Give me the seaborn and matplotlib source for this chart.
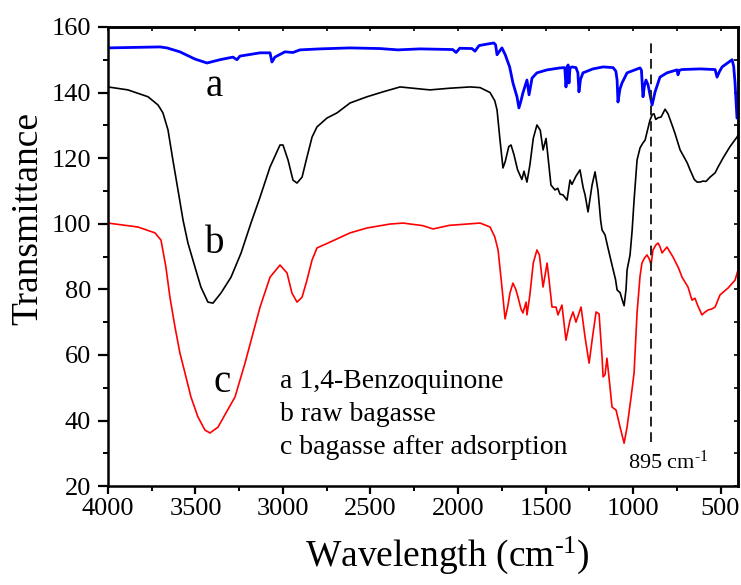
import numpy as np
import pandas as pd
import matplotlib
matplotlib.use("Agg")
import matplotlib.pyplot as plt
from matplotlib.ticker import MultipleLocator
import seaborn as sns

# ---------------- data ----------------
wn_a = [4000, 3800, 3703, 3663, 3589, 3503, 3434, 3360, 3286, 3263, 3246, 3131, 3074, 3063, 3046,
        2989, 2943, 2903, 2789, 2617, 2446, 2343, 2217, 2030, 2011, 1990, 1920, 1903, 1880, 1830,
        1795, 1785, 1777, 1760, 1749, 1730, 1720, 1705, 1686, 1663, 1652, 1640, 1629, 1606, 1594,
        1577, 1549, 1491, 1417, 1390, 1383, 1375, 1371, 1366, 1360, 1349, 1326, 1315, 1309, 1300,
        1286, 1229, 1171, 1114, 1098, 1091, 1086, 1075, 1063, 1034, 960, 952, 943, 935, 926, 914,
        900, 891, 874, 846, 806, 749, 743, 735, 720, 617, 531, 520, 505, 491, 434, 425, 417, 410, 406]
t_a = [153.6, 153.8, 153.9, 153.6, 152.4, 150.2, 149.0, 150.0, 150.8, 150.0, 151.1, 152.1, 152.1, 149.3, 150.8,
       152.4, 152.2, 153.0, 153.3, 153.6, 153.4, 153.0, 153.3, 153.1, 152.2, 153.5, 153.4, 152.6, 154.3, 154.8,
       155.1, 154.5, 151.5, 152.8, 153.6, 151.5, 150.0, 147.8, 142.9, 138.7, 135.3, 137.5, 139.9, 143.8, 139.3,
       144.4, 146.0, 146.9, 147.5, 147.6, 141.7, 147.8, 148.4, 142.9, 147.5, 147.8, 147.6, 146.0, 140.2, 144.0,
       146.0, 147.2, 147.8, 147.6, 146.5, 143.8, 137.1, 141.0, 142.9, 146.0, 147.5, 146.8, 138.7, 142.0, 143.8, 142.3,
       138.5, 136.2, 140.2, 144.7, 146.0, 146.9, 145.4, 146.8, 147.0, 147.2, 147.0, 144.7, 146.5, 147.8, 150.0, 148.0,
       142.9, 136.0, 132.2]

wn_b = [4000, 3886, 3771, 3714, 3686, 3657, 3629, 3600, 3571, 3543, 3503, 3469, 3429, 3400, 3354, 3297,
        3240, 3183, 3131, 3074, 3017, 3000, 2971, 2943, 2920, 2891, 2863, 2834, 2806, 2749, 2691, 2617,
        2520, 2429, 2331, 2200, 2160, 2050, 1931, 1874, 1817, 1790, 1777, 1760, 1743, 1730, 1710,
        1697, 1680, 1660, 1646, 1635, 1623, 1606, 1589, 1570, 1549, 1530, 1514, 1497, 1485, 1469, 1446, 1430,
        1417, 1400, 1377, 1360, 1349, 1326, 1303, 1285, 1274, 1257, 1234, 1217, 1200, 1185, 1177, 1160, 1143,
        1120, 1100, 1091, 1074, 1060, 1051, 1040, 1034, 1017, 1005, 994, 977, 960, 945, 931, 915, 903, 890,
        880, 870, 857, 840, 817, 800, 777, 760, 731, 700, 690, 674, 650, 634, 617, 600, 583, 560, 531, 514,
        486, 446, 406, 400]
t_b = [141.7, 140.8, 138.7, 136.2, 133.8, 128.6, 119.4, 110.3, 101.1, 94.1, 86.8, 80.7, 76.1, 75.8, 78.9, 83.7,
       91.0, 100.2, 108.1, 117.3, 124.0, 124.0, 119.4, 113.3, 112.4, 114.2, 120.3, 126.4, 129.5, 132.2, 133.8, 136.8,
       138.7, 140.2, 141.7, 141.0, 140.8, 141.3, 141.7, 141.5, 140.0, 137.5, 134.7, 125.5, 117.0, 119.0, 123.5,
       124.0, 121.0, 116.5, 114.8, 113.5, 116.0, 112.7, 118.0, 126.0, 130.1, 128.5, 122.5, 126.0, 120.0, 111.8, 110.3, 110.8,
       109.0, 108.8, 107.2, 113.3, 112.0, 114.5, 116.4, 111.0, 108.8, 103.6, 111.8, 115.8, 110.0, 101.0, 98.1, 96.6, 92.6,
       87.4, 83.0, 79.8, 79.0, 76.5, 75.0, 80.0, 85.9, 90.5, 98.0, 107.2, 119.4, 123.1, 124.5, 125.5, 129.0, 131.6, 133.3,
       133.5, 131.8, 132.3, 132.5, 134.9, 133.5, 130.1, 127.5, 122.5, 119.5, 118.5, 116.4, 113.5, 112.7, 112.7, 113.0, 112.9,
       114.2, 115.5, 117.3, 120.0, 123.5, 126.4, 127.0]

wn_c = [4000, 3829, 3731, 3697, 3669, 3646, 3617, 3589, 3560, 3526, 3486, 3446, 3417, 3371, 3326, 3274,
        3217, 3131, 3074, 3017, 2977, 2949, 2920, 2891, 2863, 2834, 2806, 2731, 2617, 2520, 2389,
        2314, 2200, 2143, 2050, 1874, 1817, 1790, 1771, 1749, 1731, 1715, 1703, 1686, 1670, 1657, 1640,
        1629, 1611, 1606, 1590, 1570, 1549, 1535, 1514, 1491, 1480, 1463, 1440, 1429, 1406, 1395, 1383, 1370,
        1360, 1343, 1326, 1297, 1274, 1251, 1230, 1211, 1194, 1177, 1171, 1160, 1149, 1135, 1120, 1097, 1074,
        1051, 1034, 1011, 994, 977, 960, 949, 935, 920, 905, 897, 886, 870, 857, 846, 834, 806, 771, 740, 720,
        686, 663, 646, 630, 606, 590, 571, 550, 531, 503, 457, 417, 400]
t_c = [100.2, 99.0, 97.2, 95.0, 86.8, 77.6, 68.5, 60.6, 54.5, 47.2, 41.1, 37.1, 36.2, 38.0, 42.3, 47.2,
       57.5, 74.6, 83.7, 87.4, 85.0, 78.9, 76.1, 77.6, 82.8, 88.9, 92.6, 94.4, 97.2, 98.7, 99.9,
       100.2, 99.4, 98.4, 99.5, 100.2, 99.0, 96.0, 92.0, 80.7, 71.0, 75.0, 78.9, 81.9, 80.0, 77.6, 74.0,
       72.8, 76.1, 72.2, 78.0, 88.0, 92.0, 90.5, 80.7, 88.0, 83.0, 74.6, 74.6, 72.2, 75.2, 70.0, 64.5, 68.0,
       70.6, 73.1, 70.0, 74.6, 65.4, 57.5, 66.0, 73.1, 72.5, 59.4, 53.3, 54.0, 59.0, 52.0, 44.1, 43.2, 38.0,
       33.1, 38.0, 47.2, 54.5, 72.8, 84.0, 88.0, 89.5, 90.5, 89.0, 87.4, 92.0, 93.5, 94.1, 93.0, 91.1, 92.9, 89.8, 86.5, 83.7,
       80.7, 76.7, 77.3, 75.0, 72.2, 73.0, 73.7, 74.0, 74.6, 78.3, 80.4, 82.8, 85.9]

curve_labels = ["a", "b", "c"]
legend_lines = ["a 1,4-Benzoquinone", "b raw bagasse", "c bagasse after adsorption"]
marker_wn = 895
marker_label = "895 cm$^{\\mathregular{\u2010}1}$"
x_label = "Wavelength (cm$^{\\mathregular{\u2010}1}$)"
x_ticks = [4000, 3500, 3000, 2500, 2000, 1500, 1000, 500]
y_ticks = [20, 40, 60, 80, 100, 120, 140, 160]

# ---------------- style ----------------
sns.set_style("ticks")
plt.rcParams["font.family"] = ["Liberation Serif", "DejaVu Serif"]
plt.rcParams["mathtext.fontset"] = "custom"
plt.rcParams["mathtext.rm"] = "Liberation Serif"
plt.rcParams["mathtext.it"] = "Liberation Serif:italic"
for k in ["text.color", "axes.labelcolor", "xtick.color", "ytick.color", "axes.edgecolor"]:
    plt.rcParams[k] = "black"

fig = plt.figure(figsize=(7.41, 5.85), dpi=100)
ax = fig.add_axes([0.1457, 0.169, 0.8503, 0.785])

df_a = pd.DataFrame({"wn": wn_a, "T": t_a})
df_b = pd.DataFrame({"wn": wn_b, "T": t_b})
df_c = pd.DataFrame({"wn": wn_c, "T": t_c})

sns.lineplot(data=df_a, x="wn", y="T", color="#0000ff", lw=2.0, sort=False, estimator=None, ax=ax)
sns.lineplot(data=df_b, x="wn", y="T", color="black", lw=1.2, sort=False, estimator=None, ax=ax)
sns.lineplot(data=df_c, x="wn", y="T", color="#ff0000", lw=1.2, sort=False, estimator=None, ax=ax)

ax.plot([marker_wn, marker_wn], [33.4, 155.4], color="#222222", lw=1.4, ls=(0, (5, 3)))

ax.set_xlim(4000, 400)
ax.set_ylim(20, 160)
ax.set_xticks(x_ticks)
ax.set_yticks(y_ticks)
ax.xaxis.set_minor_locator(MultipleLocator(250))
ax.yaxis.set_minor_locator(MultipleLocator(10))

for s in ax.spines.values():
    s.set_linewidth(1.8)
    s.set_color("black")

ax.tick_params(axis="x", which="major", direction="out", length=5.8, width=1.6, labelsize=19, pad=3, colors="black")
ax.tick_params(axis="x", which="minor", direction="out", length=3.6, width=1.4, colors="black")
ax.tick_params(axis="y", which="major", direction="out", length=7.2, width=1.6, labelsize=19, pad=5, colors="black")
ax.tick_params(axis="y", which="minor", direction="out", length=3.6, width=1.4, colors="black")

top = ax.secondary_xaxis("top")
top.set_xticks(x_ticks)
top.xaxis.set_minor_locator(MultipleLocator(250))
top.tick_params(which="both", direction="in", length=3, width=1.2, labeltop=False, colors="black")
top.spines["top"].set_linewidth(1.8)
right = ax.secondary_yaxis("right")
right.set_yticks(y_ticks)
right.yaxis.set_minor_locator(MultipleLocator(10))
right.tick_params(which="both", direction="in", length=3, width=1.2, labelright=False, colors="black")
right.spines["right"].set_linewidth(1.8)

ax.set_xlabel(x_label, fontsize=27, color="black")
ax.set_ylabel("Transmittance", fontsize=27, color="black")
ax.xaxis.set_label_coords(0.538, -0.105)
ax.yaxis.set_label_coords(-0.1, 0.582)

ax.text(3390, 141.7, curve_labels[0], fontsize=28, ha="center", va="center", color="black")
ax.text(3390, 94.0, curve_labels[1], fontsize=28, ha="center", va="center", color="black")
ax.text(3349, 51.7, curve_labels[2], fontsize=28, ha="center", va="center", color="black")

for i, line in enumerate(legend_lines):
    ax.text(3017, 52.0 - 10.05 * i, line, fontsize=20, ha="left", va="center", color="black")

ax.text(1029, 27.3, marker_label, fontsize=16, ha="left", va="center", color="black")

fig.savefig("out.png", dpi=100)
